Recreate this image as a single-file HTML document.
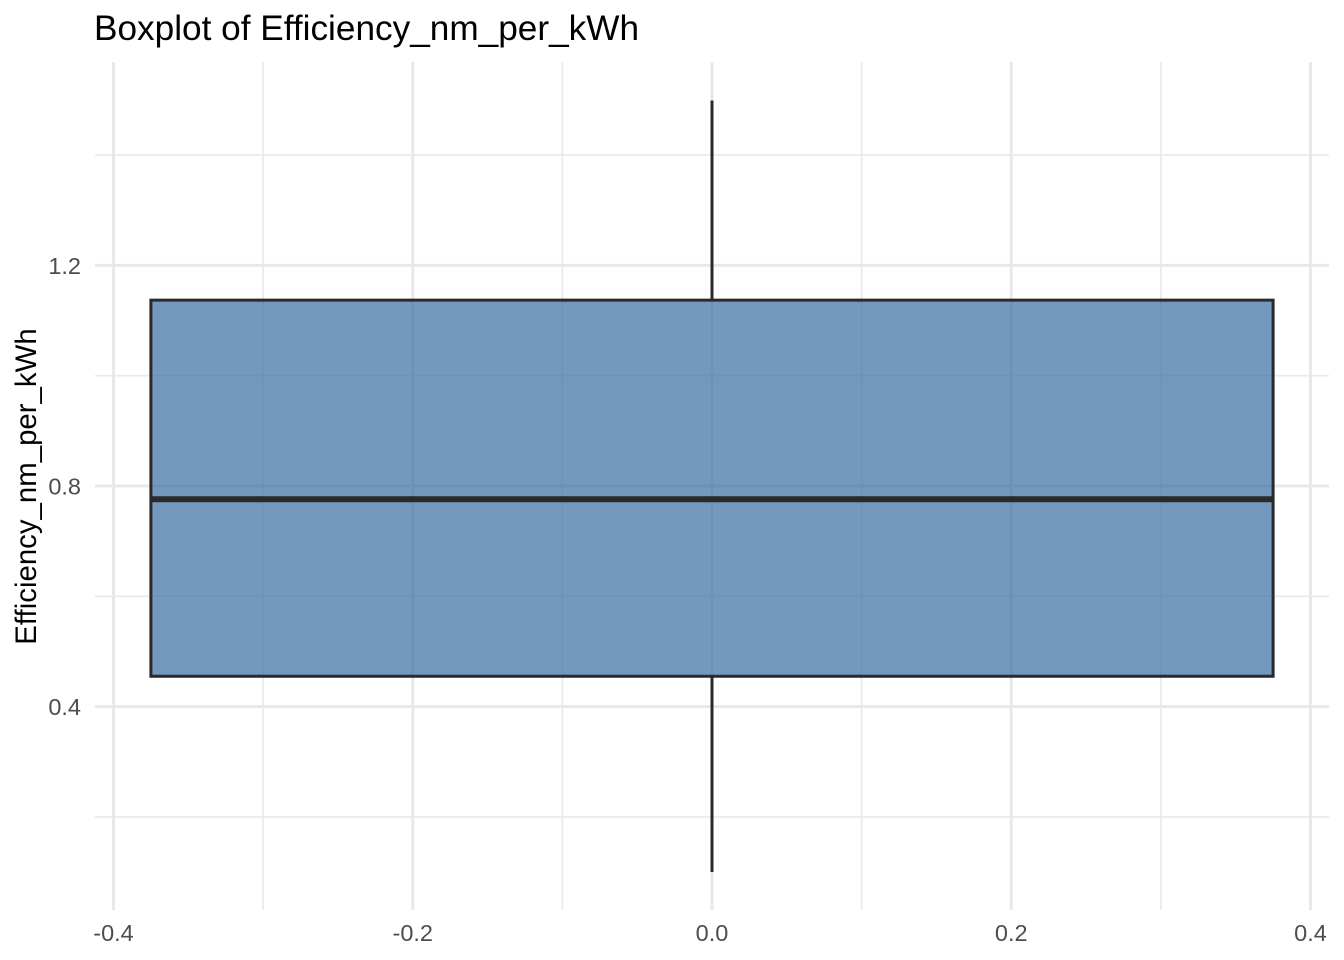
<!DOCTYPE html>
<html lang="en">
<head>
<meta charset="utf-8">
<title>Boxplot of Efficiency_nm_per_kWh</title>
<style>
html,body{margin:0;padding:0;background:#fff;width:1344px;height:960px;overflow:hidden}
svg{display:block;font-family:"Liberation Sans",Arial,sans-serif}
</style>
</head>
<body>
<svg id="chart" xmlns="http://www.w3.org/2000/svg" width="1344" height="960" viewBox="0 0 1344 960">
  <text x="94" y="40" font-size="35.2" fill="#000">Boxplot of Efficiency_nm_per_kWh</text>
  <text transform="translate(36,486.5) rotate(-90)" text-anchor="middle" font-size="29.4" fill="#000">Efficiency_nm_per_kWh</text>
  <g id="grid"></g>
  <g id="marks"></g>
  <g id="xticks"></g>
  <g id="yticks"></g>
</svg>
<script>
const xMajorTicks = [-0.4, -0.2, 0, 0.2, 0.4];
const xMinorTicks = [-0.3, -0.1, 0.1, 0.3];
const yMajorTicks = [0.4, 0.8, 1.2];
const yMinorTicks = [0.2, 0.6, 1.0, 1.4];
const xTickLabels = ['-0.4', '-0.2', '0.0', '0.2', '0.4'];
const yTickLabels = ['0.4', '0.8', '1.2'];
const boxCenter = [0];
const boxHalfWidth = [0.375];
const whiskerLow = [0.1];
const quartile1 = [0.455];
const median = [0.776];
const quartile3 = [1.137];
const whiskerHigh = [1.499];

const panel = { left: 95, right: 1329, top: 62, bottom: 910 };
const NS = 'http://www.w3.org/2000/svg';
function xScale(v) { return 712 + v * 1496.25; }
function yScale(v) { return 486 - (v - 0.8) * 551.5; }
function make(parent, tag, attrs) {
  const el = document.createElementNS(NS, tag);
  for (const k in attrs) el.setAttribute(k, attrs[k]);
  parent.appendChild(el);
  return el;
}
const grid = document.getElementById('grid');
const marks = document.getElementById('marks');
const xticks = document.getElementById('xticks');
const yticks = document.getElementById('yticks');

yMinorTicks.forEach(function (v) {
  const el = make(grid, 'line', { x1: panel.left, x2: panel.right, y1: yScale(v), y2: yScale(v), stroke: '#e9e9e9', 'stroke-width': 1.6 });
  
  
});
xMinorTicks.forEach(function (v) {
  const el = make(grid, 'line', { x1: xScale(v), x2: xScale(v), y1: panel.top, y2: panel.bottom, stroke: '#e9e9e9', 'stroke-width': 1.6 });
  
  
});
yMajorTicks.forEach(function (v) {
  const el = make(grid, 'line', { x1: panel.left, x2: panel.right, y1: yScale(v), y2: yScale(v), stroke: '#e8e8e8', 'stroke-width': 3 });
  
  
});
xMajorTicks.forEach(function (v) {
  const el = make(grid, 'line', { x1: xScale(v), x2: xScale(v), y1: panel.top, y2: panel.bottom, stroke: '#e8e8e8', 'stroke-width': 3 });
  
  
});

boxCenter.forEach(function (c, i) {
  const cx = xScale(c);
  const left = xScale(c - boxHalfWidth[i]);
  const right = xScale(c + boxHalfWidth[i]);
  const stroke = '#2a2a2a';

  const upper = make(marks, 'line', { x1: cx, x2: cx, y1: yScale(quartile3[i]), y2: yScale(whiskerHigh[i]), stroke: stroke, 'stroke-width': 3 });
  
  

  const lower = make(marks, 'line', { x1: cx, x2: cx, y1: yScale(quartile1[i]), y2: yScale(whiskerLow[i]), stroke: stroke, 'stroke-width': 3 });
  
  

  const box = make(marks, 'rect', { x: left, y: yScale(quartile3[i]), width: right - left, height: yScale(quartile1[i]) - yScale(quartile3[i]), fill: '#376DA4', 'fill-opacity': 0.7, stroke: stroke, 'stroke-width': 3 });
  
  

  const med = make(marks, 'line', { x1: left, x2: right, y1: yScale(median[i]), y2: yScale(median[i]), stroke: stroke, 'stroke-width': 6 });
  
  
});

xMajorTicks.forEach(function (v, i) {
  const el = make(xticks, 'text', { x: xScale(v), y: 941, 'text-anchor': 'middle', 'font-size': 23.5, fill: '#4d4d4d' });
  el.textContent = xTickLabels[i];
  
  
});
yMajorTicks.forEach(function (v, i) {
  const el = make(yticks, 'text', { x: 81, y: yScale(v) + 8.5, 'text-anchor': 'end', 'font-size': 23.5, fill: '#4d4d4d' });
  el.textContent = yTickLabels[i];
  
  
});
</script>
</body>
</html>
